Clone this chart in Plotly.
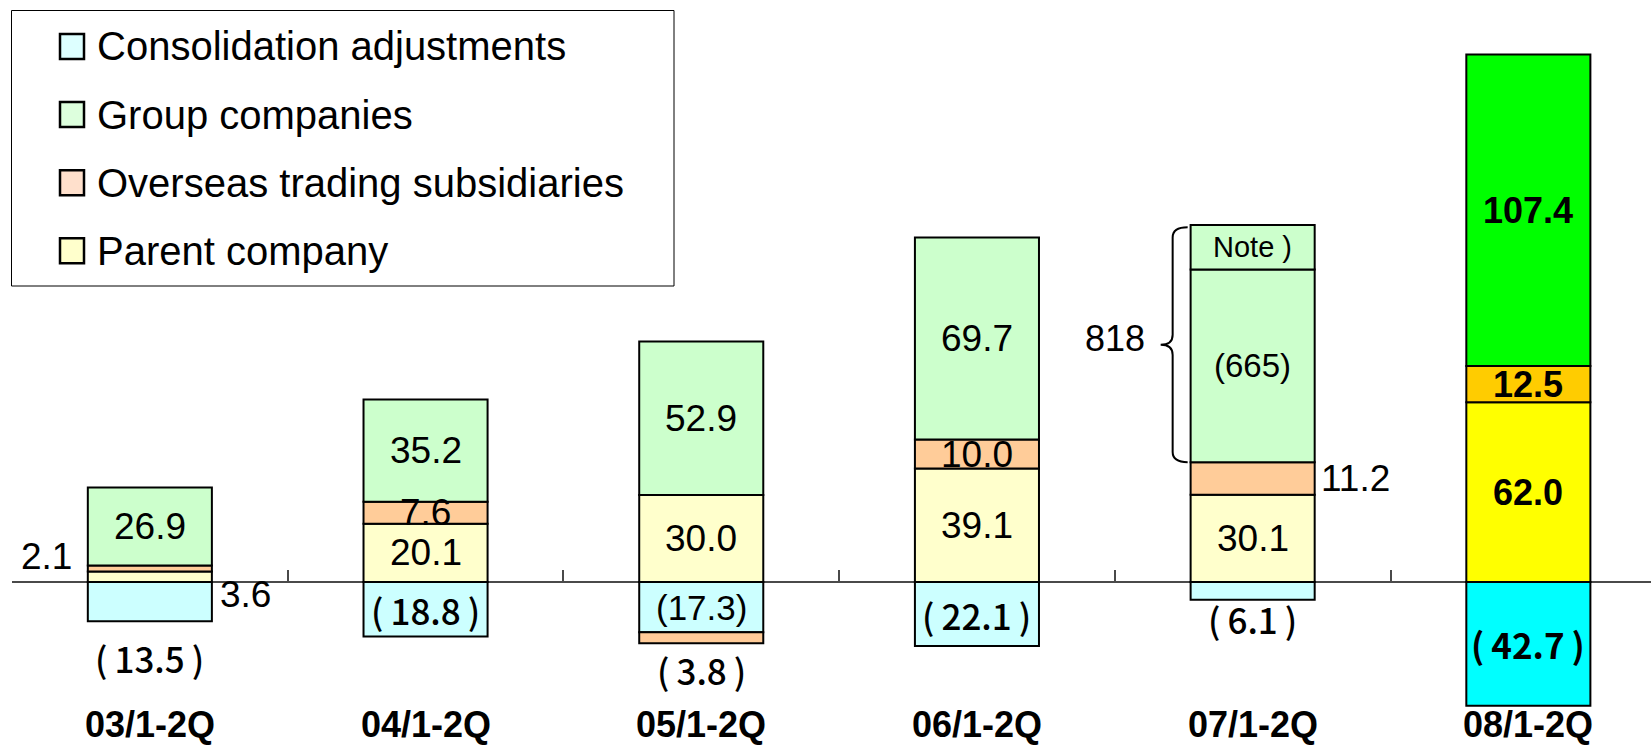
import plotly.graph_objects as go

# ---------------- data ----------------
categories = ["03/1-2Q", "04/1-2Q", "05/1-2Q", "06/1-2Q", "07/1-2Q", "08/1-2Q"]
parent_company = [3.6, 20.1, 30.0, 39.1, 30.1, 62.0]
overseas_trading = [2.1, 7.6, -3.8, 10.0, 11.2, 12.5]
group_companies = [26.9, 35.2, 52.9, 69.7, 81.8, 107.4]
consolidation_adj = [-13.5, -18.8, -17.3, -22.1, -6.1, -42.7]
group_excl_note_07 = 66.5          # (665) part of the 81.8 for 07/1-2Q
note_index = 4                      # category carrying the "Note )" split

legend_labels = ["Consolidation adjustments", "Group companies",
                 "Overseas trading subsidiaries", "Parent company"]

# ---------------- styles ----------------
FONT = "Liberation Sans, Arial, sans-serif"
CJK = "Noto Sans CJK JP, sans-serif"
n = len(categories)
hi = n - 1   # highlighted (last) bar
col_cons = ["#CCFFFF"] * hi + ["#00FFFF"]
col_par = ["#FFFFCC"] * hi + ["#FFFF00"]
col_ovs = ["#FFCC99"] * hi + ["#FFCC00"]
col_grp = ["#CCFFCC"] * hi + ["#00FF00"]
legend_colors = ["#DDFFFF", "#DDFFDD", "#FFE0CC", "#FFFFCC"]
BAR_W = 0.45
CAT_PX = 275.7
LINE = dict(color="black", width=2)
SZ = 37      # in-bar label size
NEG_SZ = 35  # CJK negative labels

group_lower = [group_excl_note_07 if i == note_index else v for i, v in enumerate(group_companies)]
group_note = [round(group_companies[i] - group_excl_note_07, 1) if i == note_index else None for i in range(n)]

fig = go.Figure()
series = [
    ("Consolidation adjustments", consolidation_adj, col_cons),
    ("Parent company", parent_company, col_par),
    ("Overseas trading subsidiaries", overseas_trading, col_ovs),
    ("Group companies", group_lower, col_grp),
    ("Group companies (note)", group_note, col_grp),
]
for name, vals, cols in series:
    fig.add_trace(go.Bar(x=categories, y=vals, name=name, width=BAR_W,
                         marker=dict(color=cols, line=LINE), showlegend=False,
                         hoverinfo="x+y+name"))

# compute segment positions (relative stacking)
pos_base = [0.0] * n
neg_base = [0.0] * n
seg = {}
for name, vals, _ in series:
    for i, v in enumerate(vals):
        if v is None:
            continue
        if v >= 0:
            seg[(name, i)] = (pos_base[i], pos_base[i] + v)
            pos_base[i] += v
        else:
            seg[(name, i)] = (neg_base[i] + v, neg_base[i])
            neg_base[i] += v

def mid(name, i):
    a, b = seg[(name, i)]
    return (a + b) / 2

ann = []

def add(text, x, y, size=SZ, family=FONT, weight=None, **kw):
    f = dict(family=family, size=size, color="black")
    if weight:
        f["weight"] = weight
    d = dict(text=text, x=x, y=y, xref="x", yref="y", showarrow=False, font=f)
    d.update(kw)
    ann.append(d)

def fmt(v):
    return f"{abs(v):.1f}"

def neg(v):
    return f"(\u2009{fmt(v)}\u2009)"

half = BAR_W / 2 * CAT_PX
for i, cat in enumerate(categories):
    bold = (i == hi)
    def t(s):
        return f"<b>{s}</b>" if bold else s
    bsz = 36 if bold else SZ
    # parent
    if i == 0:
        add(fmt(parent_company[i]), cat, mid("Parent company", i), xanchor="left",
            xshift=half + 6, yshift=-18)
    else:
        add(t(fmt(parent_company[i])), cat, mid("Parent company", i), size=bsz)
    # overseas
    v = overseas_trading[i]
    if i == 0:
        add(fmt(v), cat, mid("Overseas trading subsidiaries", i), xanchor="right",
            xshift=-half - 14, yshift=12)
    elif i == note_index:
        add(fmt(v), cat, mid("Overseas trading subsidiaries", i), xanchor="left",
            xshift=half + 4)
    elif v < 0:
        add(neg(v), cat, neg_base[i], family=CJK, size=NEG_SZ, weight=500, yshift=-26)
    else:
        add(t(fmt(v)), cat, mid("Overseas trading subsidiaries", i), size=bsz)
    # group
    if i == note_index:
        add(f"({group_excl_note_07 * 10:.0f})", cat, mid("Group companies", i), size=33)
        add("Note )", cat, mid("Group companies (note)", i), size=29)
    else:
        add(t(fmt(group_companies[i])), cat, mid("Group companies", i), size=bsz)
    # consolidation
    c = consolidation_adj[i]
    if i in (0, note_index):
        add(neg(c), cat, c, family=CJK, size=NEG_SZ, weight=500,
            yshift=-36 if i == 0 else -19)
    elif i == 2:
        add(f"({fmt(c)})", cat, mid("Consolidation adjustments", i), size=35)
    else:
        add(neg(c), cat, mid("Consolidation adjustments", i), family=CJK,
            size=NEG_SZ, weight=700 if bold else 500)
    # category label
    add(f"<b>{cat}</b>", cat, -49.3, size=36)

# brace + total for the note bar
ni = note_index
ybot = seg[("Group companies", ni)][0]
ytop = seg[("Group companies (note)", ni)][1] - 0.8
ymid = (ybot + ytop) / 2
d = 3.5
path = (f"M -65,{ytop} Q -80,{ytop} -80,{ytop - d} L -80,{ymid + d} "
        f"Q -80,{ymid} -92,{ymid} Q -80,{ymid} -80,{ymid - d} "
        f"L -80,{ybot + d} Q -80,{ybot} -65,{ybot}")
shapes = [dict(type="path", xref="x", yref="y", xsizemode="pixel", xanchor=ni,
               path=path, line=dict(color="black", width=2))]
add(f"{group_companies[ni] * 10:.0f}", categories[ni], ymid, xanchor="right",
    xshift=-106, yshift=6, size=36)

# manual legend
W, H, L = 1651, 749, 12
PW = W - L
def px(x):
    return (x - L) / PW
def py(y):
    return 1 - y / H

shapes.append(dict(type="rect", xref="paper", yref="paper", x0=px(11.5), x1=px(674),
                   y0=py(286), y1=py(10.5), line=dict(color="black", width=1),
                   fillcolor="white", layer="below"))
for k, (lab, colr) in enumerate(zip(legend_labels, legend_colors)):
    cy = 46.5 + k * 68.1
    shapes.append(dict(type="rect", xref="paper", yref="paper", x0=px(60), x1=px(84),
                       y0=py(cy + 12.5), y1=py(cy - 12.5),
                       line=dict(color="black", width=2.5), fillcolor=colr))
    ann.append(dict(text=lab, x=px(95), y=py(cy), xref="paper", yref="paper",
                    xanchor="left", yanchor="middle", showarrow=False,
                    font=dict(family=FONT, size=40, color="black")))

PXU = 2.9
zero_px = 582
fig.update_layout(
    width=W, height=H,
    margin=dict(l=L, r=0, t=0, b=0),
    paper_bgcolor="white", plot_bgcolor="white",
    barmode="relative",
    showlegend=False,
    annotations=ann,
    shapes=shapes,
    xaxis=dict(type="category", range=[-0.5, -0.5 + PW / CAT_PX],
               anchor="free", position=(H - zero_px) / H,
               showline=True, linecolor="#4a4a4a", linewidth=1.5,
               ticks="inside", ticklen=11, tickcolor="#4a4a4a", tickwidth=1.5,
               tickson="boundaries", showticklabels=False, showgrid=False,
               zeroline=False, layer="below traces"),
    yaxis=dict(range=[-(H - zero_px) / PXU, zero_px / PXU], visible=False,
               showgrid=False, zeroline=False),
)

fig.write_html("out.html")
